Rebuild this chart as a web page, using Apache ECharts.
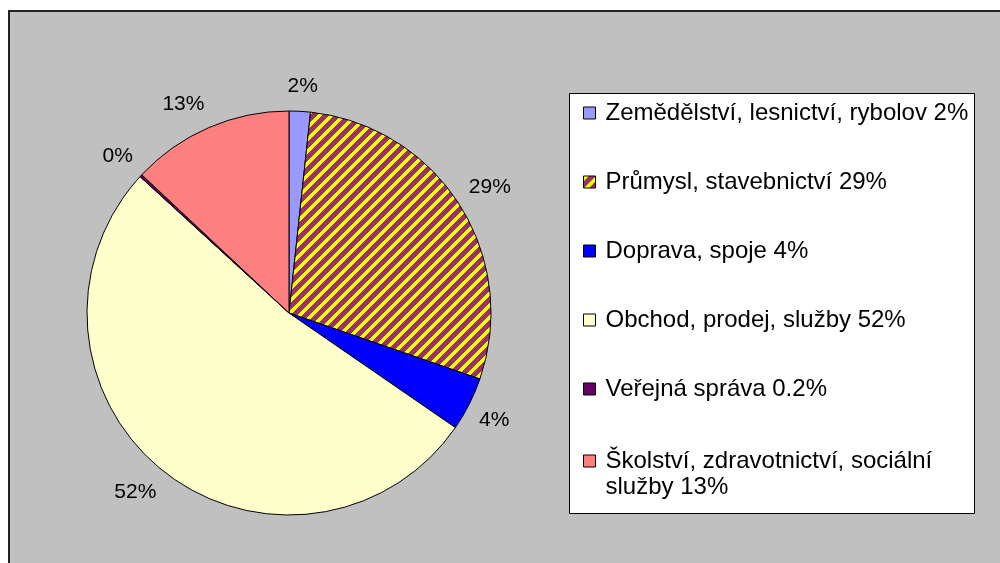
<!DOCTYPE html>
<html><head><meta charset="utf-8">
<script src="https://cdn.jsdelivr.net/npm/echarts/dist/echarts.min.js"></script>
<style>html,body{margin:0;padding:0;background:#fff}#c{width:1000px;height:563px}</style>
</head><body><div id="c"></div>
<script>
const categories = [
  'Zemědělství, lesnictví, rybolov 2%',
  'Průmysl, stavebnictví 29%',
  'Doprava, spoje 4%',
  'Obchod, prodej, služby 52%',
  'Veřejná správa 0.2%',
  'Školství, zdravotnictví, sociální\nslužby 13%'
];
const values = [1.7, 28.6, 4.3, 52.2, 0.2, 13.0];
const sliceColors = ['#9999FF', 'hatch', '#0000FF', '#FFFFCC', '#660066', '#FF8080'];

const CX = 289, CY = 313, R = 202;

function hatchPattern() {
  const c = document.createElement('canvas');
  c.width = 12; c.height = 12;
  const g = c.getContext('2d');
  g.fillStyle = '#993366'; g.fillRect(0, 0, 12, 12);
  g.fillStyle = '#FFFF00';
  for (let y = 0; y < 12; y++) for (let x = 0; x < 12; x++)
    if ((x + y) % 12 < 5) g.fillRect(x, y, 1, 1);
  return { image: c, repeat: 'repeat' };
}
const colorOf = c => c === 'hatch' ? hatchPattern() : c;
const clamp1 = v => Math.max(-1, Math.min(1, v));

const chart = echarts.init(document.getElementById('c'), null, { renderer: 'canvas' });
const font = 'Liberation Sans, Arial, sans-serif';
const legendBase = {
  orient: 'vertical', left: 583, padding: 0,
  itemWidth: 12, itemHeight: 12, itemGap: 37, icon: 'rect', selectedMode: false,
  itemStyle: { borderColor: '#000', borderWidth: 1 }
};
chart.setOption({
  animation: false,
  backgroundColor: '#ffffff',
  graphic: [
    { type: 'rect', z: -10, silent: true, shape: { x: 9, y: 11, width: 1000, height: 600 },
      style: { fill: '#C0C0C0', stroke: '#222', lineWidth: 2 } },
    { type: 'rect', z: -5, silent: true, shape: { x: 569.5, y: 93.5, width: 405, height: 420 },
      style: { fill: '#ffffff', stroke: '#000', lineWidth: 1 } }
  ],
  legend: [
    Object.assign({}, legendBase, {
      top: 97,
      textStyle: { fontSize: 24, fontFamily: font, color: '#000', lineHeight: 32, padding: [0, 0, 0, 5] },
      data: categories.slice(0, 5)
    }),
    Object.assign({}, legendBase, {
      top: 422,
      formatter: name => '\n' + name,
      textStyle: { fontSize: 24, fontFamily: font, color: '#000', lineHeight: 26, padding: [0, 0, 0, 5] },
      data: categories.slice(5)
    })
  ],
  series: [
    {
      type: 'pie', center: [CX, CY], radius: [0, R], startAngle: 90, clockwise: true,
      silent: true, label: { show: false }, labelLine: { show: false },
      emphasis: { disabled: true },
      itemStyle: { borderColor: '#000', borderWidth: 1 },
      data: categories.map((n, i) => ({ name: n, value: values[i], itemStyle: { color: colorOf(sliceColors[i]) } }))
    },
    {
      type: 'pie', center: [CX, CY], radius: [R, R], startAngle: 90, clockwise: true,
      silent: true, legendHoverLink: false, emphasis: { disabled: true },
      itemStyle: { color: 'transparent', borderWidth: 0 },
      labelLine: { show: false },
      label: { show: true, position: 'inside', rotate: 0, color: '#000', fontSize: 21, fontFamily: font,
        formatter: p => Math.round(p.percent) + '%' },
      labelLayout: function (p) {
        const r = p.labelRect;
        const cx = r.x + r.width / 2, cy = r.y + r.height / 2;
        const n = Math.hypot(cx - CX, cy - CY) || 1;
        const ux = (cx - CX) / n, uy = (cy - CY) / n;
        const dx = ux * 8 + clamp1(ux * 3) * r.width / 2;
        const dy = uy * 14 + clamp1(uy * 3) * 8;
        return { x: cx + dx, y: cy + dy, align: 'center', verticalAlign: 'middle' };
      },
      data: categories.map((n, i) => ({ name: n, value: values[i] }))
    }
  ]
});
</script>
</body></html>
